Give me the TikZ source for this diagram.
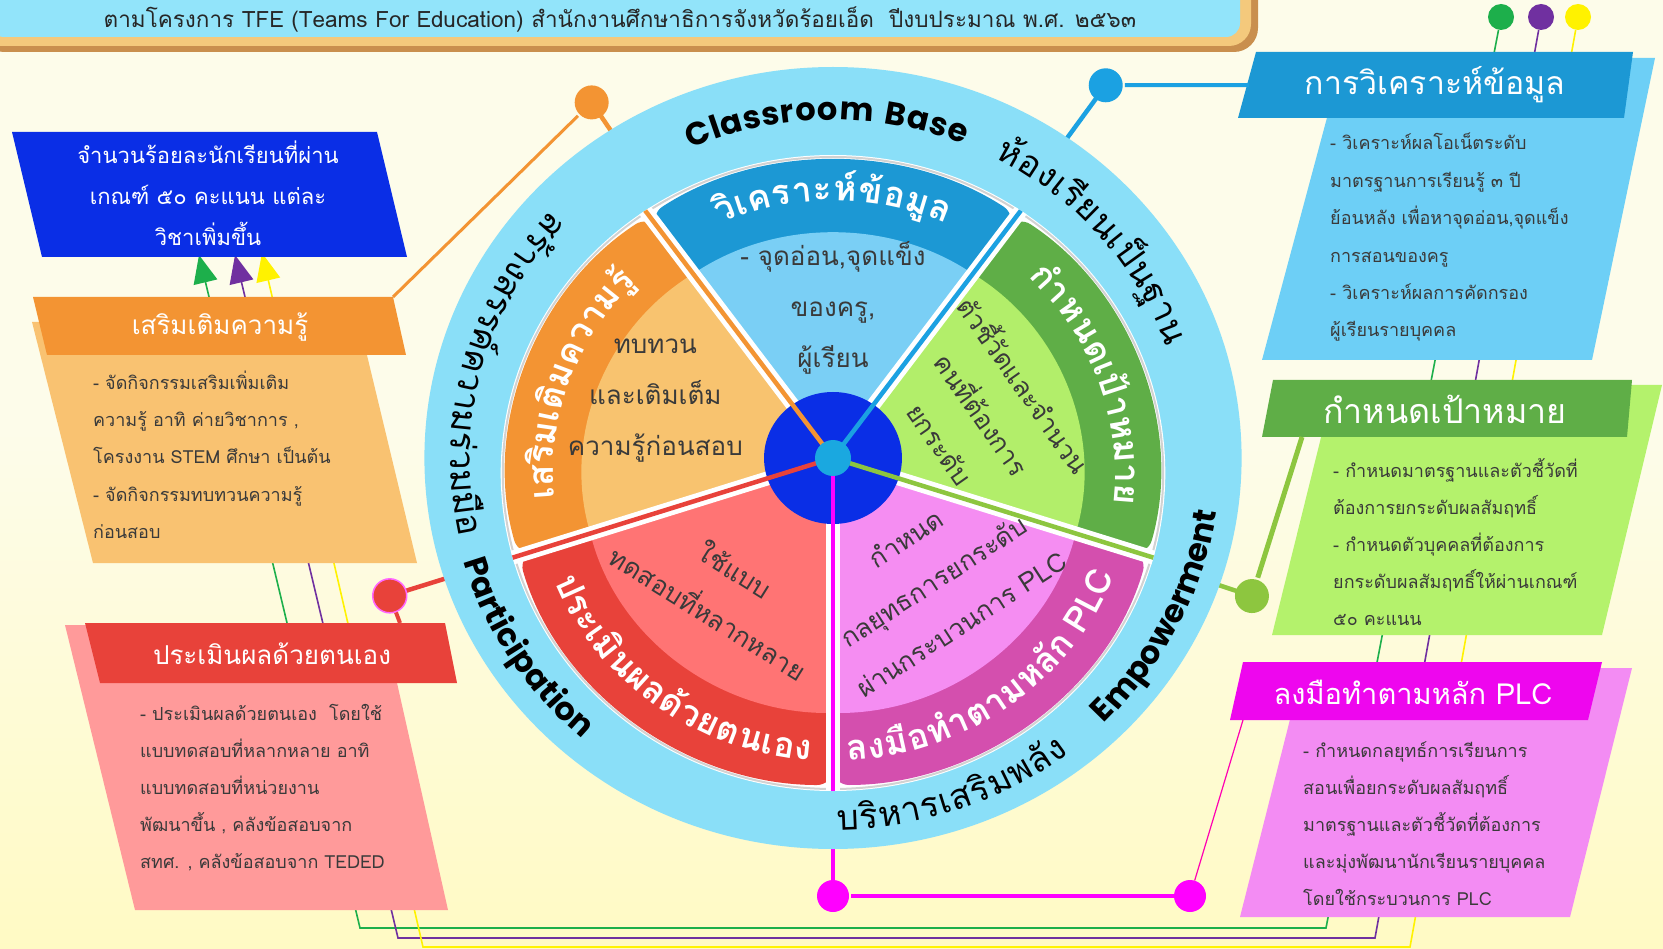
\documentclass[tikz,border=0pt]{standalone}
\usepackage{fontspec}
\setmainfont[Script=Thai]{Loma}
\newfontfamily\latinfont{Poppins}
\usetikzlibrary{arrows.meta,positioning}

\definecolor{cream}{HTML}{FDFCEA}
\definecolor{lemon}{HTML}{FFF6A0}
\definecolor{lemonpale}{HTML}{FFFAC4}
\definecolor{titleblue}{HTML}{92E4FA}
\definecolor{titlerim}{HTML}{F4C97C}
\definecolor{titleshade}{HTML}{C98F4E}
\definecolor{skyband}{HTML}{1C98D4}
\definecolor{skylight}{HTML}{6DCFF6}
\definecolor{skywedge}{HTML}{7ACFF5}
\definecolor{skyspoke}{HTML}{1BA1E2}
\definecolor{grassband}{HTML}{5FAE47}
\definecolor{grasslight}{HTML}{B4F26C}
\definecolor{grasswedge}{HTML}{B2EE6A}
\definecolor{grassspoke}{HTML}{8DC63F}
\definecolor{plchead}{HTML}{EE06EE}
\definecolor{plclight}{HTML}{F38CF3}
\definecolor{plcband}{HTML}{D44FAE}
\definecolor{plcwedge}{HTML}{F58DF2}
\definecolor{magentaline}{HTML}{FF00FF}
\definecolor{redband}{HTML}{E8423A}
\definecolor{redlight}{HTML}{FF9A9A}
\definecolor{redwedge}{HTML}{FF7474}
\definecolor{orangeband}{HTML}{F39433}
\definecolor{orangelight}{HTML}{F9C271}
\definecolor{orangewedge}{HTML}{F8C36F}
\definecolor{deepblue}{HTML}{0A2EE6}
\definecolor{ringblue}{HTML}{8ADFF8}
\definecolor{hubcyan}{HTML}{1AA8E0}
\definecolor{linegreen}{HTML}{1DAF4B}
\definecolor{linepurple}{HTML}{7030A0}
\definecolor{lineyellow}{HTML}{FFF200}
\definecolor{bodyink}{HTML}{3A3A3A}

\newcommand\titlefont{\fontsize{22.5}{22.5}\selectfont}
\newcommand\bodyfont{\fontsize{18}{18}\selectfont}
\newcommand\rheadfont{\fontsize{32}{32}\selectfont}
\newcommand\lheadfont{\fontsize{26}{26}\selectfont}
\newcommand\notefont{\fontsize{22}{41}\selectfont}
\newcommand\wheelfont{\fontsize{26}{51}\selectfont}
\newcommand\bandfont{\bfseries\fontsize{35}{35}\selectfont\color{white}}
\newcommand\ringthai{\fontsize{35}{35}\selectfont}
\newcommand\ringlatin{\latinfont\bfseries\fontsize{32}{32}\selectfont}
\newcommand\gapch{\hspace*{0.3em}}

% text set on a circle, one cluster at a time
% (widths are measured before the picture, where fonts are live)
\newdimen\chlen
\newdimen\chtot
\newcommand\arcmeasure[3]{%
  \global\chtot=0pt
  \expandafter\gdef\csname arcf#1\endcsname{#2}%
  \expandafter\gdef\csname arcl#1\endcsname{#3}%
  \foreach \chk [count=\chn] in {#3}{\settowidth\chlen{#2\chk}\global\advance\chtot by \chlen
    \expandafter\xdef\csname arcw#1\chn\endcsname{\the\chlen}}%
  \expandafter\xdef\csname arct#1\endcsname{\the\chtot}}
\newcommand\arcwords[4]{% id, centre angle, radius, 1 = ccw / -1 = cw
  \expandafter\let\expandafter\arcfont\csname arcf#1\endcsname
  \expandafter\let\expandafter\arclist\csname arcl#1\endcsname
  \pgfmathsetmacro\chang{#2-(#4)*\csname arct#1\endcsname/(#3)*28.6479}\xdef\arcang{\chang}%
  \foreach \chk [count=\chn] in \arclist {%
    \edef\chw{\csname arcw#1\chn\endcsname}%
    \pgfmathsetmacro\chmid{\arcang+(#4)*\chw/(#3)*28.6479}%
    \pgfmathsetmacro\chrot{\chmid+(#4)*90}%
    \node[rotate=\chrot, anchor=base, inner sep=0pt] (#1\chn) at (\chmid:#3) {\arcfont\chk};
    \pgfmathsetmacro\chang{\arcang+(#4)*\chw/(#3)*57.2958}\xdef\arcang{\chang}%
  }}

\tikzset{
  headtext/.style={text=white, font=\rheadfont, inner sep=0pt},
  bodytext/.style={text=bodyink, font=\bodyfont, inner sep=0pt, anchor=base west},
  wheeltext/.style={align=center, font=\wheelfont, text=bodyink, inner sep=0pt},
  spoke/.style={line width=4.5pt},
  gapline/.style={white, line width=14pt},
  dot/.style={circle, inner sep=0pt, minimum size=34pt},
  guide/.style={line width=1.6pt, -{Triangle[width=24pt,length=28pt]}},
}

\begin{document}
\arcmeasure{cb}{\ringlatin}{C,l,a,s,s,r,o,o,m,\gapch,B,a,s,e}
\arcmeasure{hr}{\ringthai}{ห้,อ,ง,เ,รี,ย,น,เ,ป็,น,ฐ,า,น}
\arcmeasure{sk}{\ringthai}{ส,ร้,า,ง,ส,ร,ร,ค์,ค,ว,า,ม,ร่,ว,ม,มื,อ}
\arcmeasure{pt}{\ringlatin}{P,a,r,t,i,c,i,p,a,t,i,o,n}
\arcmeasure{bs}{\ringthai}{บ,ริ,ห,า,ร,เ,ส,ริ,ม,พ,ลั,ง}
\arcmeasure{em}{\ringlatin}{E,m,p,o,w,e,r,m,e,n,t}
\arcmeasure{vk}{\bandfont}{วิ,เ,ค,ร,า,ะ,ห์,ข้,อ,มู,ล}
\arcmeasure{gm}{\bandfont}{กำ,ห,น,ด,เ,ป้,า,ห,ม,า,ย}
\arcmeasure{lm}{\bandfont}{ล,ง,มื,อ,ทำ,ต,า,ม,ห,ลั,ก,\gapch,P,L,C}
\arcmeasure{pm}{\bandfont}{ป,ร,ะ,เ,มิ,น,ผ,ล,ด้,ว,ย,ต,น,เ,อ,ง}
\arcmeasure{sm}{\bandfont}{เ,ส,ริ,ม,เ,ติ,ม,ค,ว,า,ม,รู้}
\begin{tikzpicture}[x=1pt, y=-1pt]
\useasboundingbox (0,0) rectangle (1663,949);
% background
\fill[cream] (0,0) rectangle (1663,949);
\shade[top color=cream, middle color=lemon, bottom color=lemonpale] (0,430) rectangle (1663,949);

% title
\fill[titleshade, rounded corners=24pt] (-20,-30) rectangle (1258,52);
\fill[titlerim, rounded corners=22pt] (-20,-30) rectangle (1251,46);
\fill[titleblue, rounded corners=14pt] (-10,-30) rectangle (1240,37);
\node[font=\titlefont, text=black!85, inner sep=0pt] (title) at (620,19) {ตามโครงการ TFE (Teams For Education) สำนักงานศึกษาธิการจังหวัดร้อยเอ็ด\ \ ปีงบประมาณ พ.ศ. ๒๕๖๓};

% three guide lines round the page
\node[dot, minimum size=26pt, fill=linegreen] (topG) at (1501,17) {};
\node[dot, minimum size=26pt, fill=linepurple] (topP) at (1541,17) {};
\node[dot, minimum size=26pt, fill=lineyellow] (topY) at (1578,17) {};
\coordinate (tipG) at (199,255);
\coordinate (tipP) at (235,255);
\coordinate (tipY) at (262,253);
\draw[guide, linegreen] (topG) -- (1326,928) -- (360,928) -- (tipG);
\draw[guide, linepurple] (topP) -- (1375,938) -- (398,938) -- (tipP);
\draw[guide, lineyellow] (topY) -- (1410,947) -- (423,947) -- (tipY);

% right boxes
\fill[skylight] (1343,58) -- (1655,58) -- (1592,360) -- (1262,360) -- cycle;
\fill[skyband] (1256,52) -- (1633,52) -- (1624,118) -- (1238,118) -- cycle;
\node[headtext] (anaHead) at (1435,85) {การวิเคราะห์ข้อมูล};
\foreach \bline [count=\k] in {{- วิเคราะห์ผลโอเน็ตระดับ},{มาตรฐานการเรียนรู้ ๓ ปี},{ย้อนหลัง เพื่อหาจุดอ่อน,จุดแข็ง},{การสอนของครู},{- วิเคราะห์ผลการคัดกรอง},{ผู้เรียนรายบุคคล}}
  \node[bodytext] (anaL\k) at (1330,{150+37.4*(\k-1)}) {\bline};

\fill[grasslight] (1334,385) -- (1662,385) -- (1602,635) -- (1272,635) -- cycle;
\fill[grassband] (1273,380) -- (1632,380) -- (1627,437) -- (1262,437) -- cycle;
\node[headtext, font=\fontsize{34}{34}\selectfont] (goalHead) at (1445,409) {กำหนดเป้าหมาย};
\foreach \bline [count=\k] in {{- กำหนดมาตรฐานและตัวชี้วัดที่},{ต้องการยกระดับผลสัมฤทธิ์},{- กำหนดตัวบุคคลที่ต้องการ},{ยกระดับผลสัมฤทธิ์ให้ผ่านเกณฑ์},{๕๐ คะแนน}}
  \node[bodytext] (goalL\k) at (1333,{477+37*(\k-1)}) {\bline};

\fill[plclight] (1303,668) -- (1632,668) -- (1570,917) -- (1240,917) -- cycle;
\fill[plchead] (1243,662) -- (1602,662) -- (1588,720) -- (1230,720) -- cycle;
\node[headtext, font=\fontsize{29}{29}\selectfont] (plcHead) at (1413,692) {ลงมือทำตามหลัก PLC};
\foreach \bline [count=\k] in {{- กำหนดกลยุทธ์การเรียนการ},{สอนเพื่อยกระดับผลสัมฤทธิ์},{มาตรฐานและตัวชี้วัดที่ต้องการ},{และมุ่งพัฒนานักเรียนรายบุคคล},{โดยใช้กระบวนการ PLC}}
  \node[bodytext] (plcL\k) at (1303,{757+37.2*(\k-1)}) {\bline};

% left boxes
\fill[deepblue] (12,132) -- (377,132) -- (407,257) -- (42,257) -- cycle;
\node[align=center, text=white, font=\notefont, inner sep=0pt] (aimNote) at (208,193) {จำนวนร้อยละนักเรียนที่ผ่าน\\เกณฑ์ ๕๐ คะแนน แต่ละ\\วิชาเพิ่มขึ้น};

\fill[orangelight] (32,322) -- (359,322) -- (417,563) -- (93,563) -- cycle;
\fill[orangeband] (33,297) -- (393,297) -- (406,355) -- (47,355) -- cycle;
\node[headtext, font=\lheadfont] (sermHead) at (220,327) {เสริมเติมความรู้};
\foreach \bline [count=\k] in {{- จัดกิจกรรมเสริมเพิ่มเติม},{ความรู้ อาทิ ค่ายวิชาการ ,},{โครงงาน STEM ศึกษา เป็นต้น},{- จัดกิจกรรมทบทวนความรู้},{ก่อนสอบ}}
  \node[bodytext] (sermL\k) at (93,{390+37*(\k-1)}) {\bline};

\fill[redlight] (65,625) -- (384,625) -- (448,910) -- (135,910) -- cycle;
\fill[redband] (85,623) -- (445,623) -- (457,683) -- (100,683) -- cycle;
\node[headtext, font=\lheadfont] (evalHead) at (272,654) {ประเมินผลด้วยตนเอง};
\foreach \bline [count=\k] in {{- ประเมินผลด้วยตนเอง\ \ โดยใช้},{แบบทดสอบที่หลากหลาย อาทิ},{แบบทดสอบที่หน่วยงาน},{พัฒนาขึ้น , คลังข้อสอบจาก},{สทศ. , คลังข้อสอบจาก TEDED}}
  \node[bodytext] (evalL\k) at (140,{720+37*(\k-1)}) {\bline};

% the wheel: ring round the hub, petals round a point a little lower
\begin{scope}[shift={(833,458)}, yscale=-1, xscale=1.045]
  \coordinate (hubc) at (0,0);
  \coordinate (padc) at (0,-15);
  \draw[spoke, orangeband] (hubc) -- (123:424) node[dot, fill=orangeband] (dotO) {};
  \draw[spoke, skyspoke] (hubc) -- (55:455) node[dot, fill=skyspoke] (dotB) {};
  \draw[spoke, grassspoke] (hubc) -- (-19:424) node[dot, fill=grassspoke] (dotG) {};
  \draw[spoke, magentaline] (hubc) -- (-90:438) node[dot, minimum size=32pt, fill=magentaline] (dotM) {};
  \draw[spoke, redband] (hubc) -- (198:446) node[dot, fill=redband, draw=magentaline!60, line width=1.5pt] (dotR) {};

  \fill[ringblue] (hubc) circle (391);
  \fill[white] (padc) circle (318);
  \draw[gray!35, line width=2pt] (padc) circle (316);
  % petals: rays from the hub, rims round padc
  \foreach \a/\band/\inner in {54/skyband/skywedge, -18/grassband/grasswedge, -90/plcband/plcwedge, 198/redband/redwedge, 126/orangeband/orangewedge}{
    \foreach \rim/\rr/\rc in {312/9.7344/16pt, 240/5.76/6pt}{
      \pgfmathsetmacro\rayA{100*(-0.15*sin(\a)+sqrt(0.0225*sin(\a)^2-0.0225+\rr))}
      \pgfmathsetmacro\rayB{100*(-0.15*sin(\a+72)+sqrt(0.0225*sin(\a+72)^2-0.0225+\rr))}
      \pgfmathsetmacro\angA{atan2(\rayA*sin(\a)+15,\rayA*cos(\a))}
      \pgfmathsetmacro\angB{atan2(\rayB*sin(\a+72)+15,\rayB*cos(\a+72))}
      \pgfmathsetmacro\angB{\angB<\angA ? \angB+360 : \angB}
      \pgfmathsetmacro\isband{\rim>300 ? 1 : 0}
      \ifdim\isband pt>0.5pt \def\petal{\band}\else \def\petal{\inner}\fi
      \fill[\petal, rounded corners=\rc] (hubc) -- (\a:\rayA) arc[start angle=\angA, end angle=\angB, radius=\rim] -- cycle;
    }
  }
  \begin{scope}
    \clip (padc) circle (318);
    \foreach \a in {126,54,-18,-90,198}
      \draw[gapline] (hubc) -- (\a:400);
    \fill[deepblue] (hubc) circle (66);
    \foreach \a/\c in {126/orangeband, 54/skyspoke, -18/grassspoke, -90/magentaline, 198/redband}
      \draw[spoke, \c] (hubc) -- (\a:400);
  \end{scope}
  \node[circle, fill=hubcyan, minimum size=36pt, inner sep=0pt] (hub) at (hubc) {};

  % ring words
  \arcwords{cb}{91}{338}{-1}
  \arcwords{hr}{41}{338}{-1}
  \arcwords{sk}{165}{366}{1}
  \arcwords{pt}{213}{369}{1}
  \arcwords{bs}{-71}{372}{1}
  \arcwords{em}{-27}{371}{1}

  % petal words
  \begin{scope}[shift={(padc)}]
    \arcwords{vk}{90}{272}{-1}
    \arcwords{gm}{20}{270}{-1}
    \arcwords{lm}{-54}{288}{1}
    \arcwords{pm}{234}{288}{1}
    \arcwords{sm}{160}{268}{-1}
  \end{scope}

  % inner words
  \node[wheeltext] (vkin) at (0,150) {- จุดอ่อน,จุดแข็ง\\ของครู,\\ผู้เรียน};
  \node[wheeltext] (smin) at (-170,57) {ทบทวน\\และเติมเต็ม\\ความรู้ก่อนสอบ};
  \node[wheeltext, rotate=-55] (gmin) at (145,45) {ตัวชี้วัดและจำนวน\\คนที่ต้องการ\\ยกระดับ};
  \node[wheeltext, rotate=33] (lmin) at (96,-123) {กำหนด\\กลยุทธการยกระดับ\\ผ่านกระบวนการ PLC};
  \node[wheeltext, rotate=-32] (pmin) at (-106,-133) {ใช้แบบ\\ทดสอบที่หลากหลาย};
\end{scope}

% connectors from the wheel to the boxes
\coordinate (sermIn) at (393,297);
\coordinate (anaIn) at (1249,85);
\coordinate (goalIn) at (1302,437);
\coordinate (evalIn) at (400,623);
\coordinate (plcIn) at (1243,720);
\node[dot, minimum size=32pt, fill=magentaline] (dotM2) at (1190,896) {};
\draw[orangeband, line width=3pt] (dotO) -- (sermIn);
\draw[skyspoke, line width=4pt] (dotB) -- (anaIn);
\draw[grassspoke, line width=5pt] (dotG) -- (goalIn);
\draw[redband, line width=4pt] (dotR) -- (evalIn);
\draw[magentaline, line width=4.5pt] (dotM) -- (dotM2);
\draw[magentaline!70!red, line width=1.2pt] (dotM2) -- (plcIn);
\end{tikzpicture}
\end{document}
